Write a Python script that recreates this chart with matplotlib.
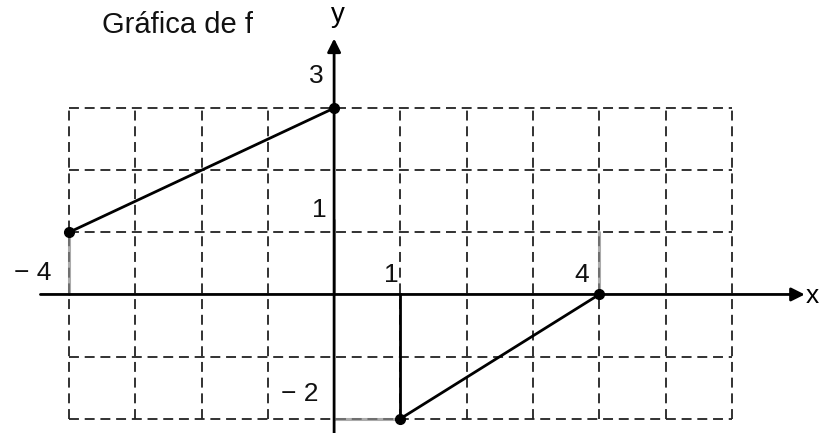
import numpy as np
import matplotlib
matplotlib.use("Agg")
import matplotlib.pyplot as plt

# grid values (units)
grid_x = [-4, -3, -2, -1, 1, 2, 3, 4, 5, 6]
grid_y = [-2, -1, 1, 2, 3]

# graph of f: two segments plus the vertical jump at x = 1
seg1_x = [-4, 0]
seg1_y = [1, 3]
seg2_x = [1, 4]
seg2_y = [-2, 0]
jump_x = [1, 1]
jump_y = [0, -2]

# faint pencil marks in the scan
faint_x = [[-4, -4], [0, 0], [4, 4], [0, 1]]
faint_y = [[0, 1], [0, 1.2], [0, 1], [-2, -2]]

dots_x = [-4, 0, 4, 1]
dots_y = [1, 3, 0, -2]

# tick labels: (text, x, y)
labels = [("3", -0.27, 3.32), ("1", -0.22, 1.17), ("\u2212 4", -4.55, 0.15),
          ("1", 0.87, 0.12), ("4", 3.74, 0.12), ("\u2212 2", -0.52, -1.8)]

plt.rcParams["font.family"] = ["Liberation Sans", "DejaVu Sans"]

fig = plt.figure(figsize=(8.22, 4.33), dpi=100)
ax = fig.add_axes([0, 0, 1, 1])
ax.set_xlim(-5.04, 7.36)
ax.set_ylim(-2.23, 4.74)
ax.axis("off")

dash = (0, (5.5, 3.2))
ax.vlines(grid_x, min(grid_y), max(grid_y), colors="#222222", lw=1.3, linestyles=[dash])
ax.hlines(grid_y, min(grid_x), max(grid_x), colors="#222222", lw=1.3, linestyles=[dash])

for fx, fy in zip(faint_x, faint_y):
    ax.plot(fx, fy, color="#888888", lw=2.2, alpha=0.7, solid_capstyle="round")

# axes with arrows
ax.annotate("", xy=(7.1, 0), xytext=(-4.43, 0),
            arrowprops=dict(arrowstyle="-|>", lw=2, color="black", mutation_scale=20, shrinkA=0, shrinkB=0))
ax.annotate("", xy=(0, 4.12), xytext=(0, -2.3),
            arrowprops=dict(arrowstyle="-|>", lw=2, color="black", mutation_scale=20, shrinkA=0, shrinkB=0))

ax.plot(seg1_x, seg1_y, color="black", lw=2)
ax.plot(seg2_x, seg2_y, color="black", lw=2)
ax.plot(jump_x, jump_y, color="black", lw=2)
ax.plot(dots_x, dots_y, "o", color="black", ms=7)

for t, x, y in labels:
    ax.text(x, y, t, fontsize=19, ha="center", va="bottom", color="#111111")

ax.text(7.22, -0.02, "x", fontsize=19, ha="center", va="center")
ax.text(0.05, 4.5, "y", fontsize=20, ha="center", va="center")
ax.text(-2.36, 4.33, "Gráfica de f", fontsize=21, ha="center", va="center", color="#111111")

fig.savefig("out.png", dpi=100)
